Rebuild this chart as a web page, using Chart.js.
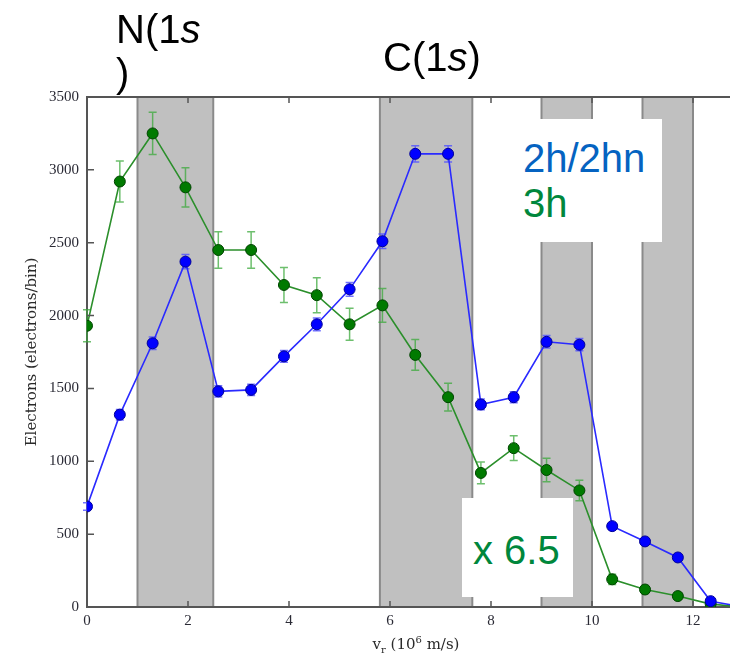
<!DOCTYPE html>
<html>
<head>
<meta charset="utf-8">
<script src="https://cdn.jsdelivr.net/npm/chart.js@4.4.1/dist/chart.umd.min.js"></script>
<style>
  html, body { margin: 0; padding: 0; background: #fff; }
  #wrap { position: relative; width: 730px; height: 656px; overflow: hidden; }
  #plot { position: absolute; left: 0; top: 0; }
  .note { position: absolute; font-family: "Liberation Sans", Arial, sans-serif; font-size: 40px; line-height: 44px; white-space: nowrap; }
  .box { position: absolute; background: #fff; }
  #xtitle { position: absolute; left: 0; width: 832px; top: 634px; text-align: center;
            font-family: "DejaVu Serif", serif; font-size: 15px; color: #2a2a2a; }
  #xtitle sub, #xtitle sup { font-size: 10px; }
</style>
</head>
<body>
<div id="wrap">
  <canvas id="plot" width="750" height="656"></canvas>
  <div class="box" style="left:490px; top:119px; width:172px; height:123px;"></div>
  <div class="box" style="left:462px; top:498px; width:111px; height:99px;"></div>
  <div class="note" style="left:116px; top:7px; color:#000;">N(1<i>s</i><br>)</div>
  <div class="note" style="left:383px; top:35px; color:#000;">C(1<i>s</i>)</div>
  <div class="note" style="left:523px; top:136px; color:#0563c1;">2h/2hn</div>
  <div class="note" style="left:523px; top:181px; color:#00873c;">3h</div>
  <div class="note" style="left:473px; top:528px; color:#00873c;">x 6.5</div>
  <div id="xtitle">v<sub>r</sub> (10<sup>6</sup> m/s)</div>
</div>
<script>
// velocity bins (10^6 m/s)
const vr = [0, 0.65, 1.3, 1.95, 2.6, 3.25, 3.9, 4.55, 5.2, 5.85, 6.5, 7.15, 7.8, 8.45, 9.1, 9.75, 10.4, 11.05, 11.7, 12.35, 13.0];

// 2h/2hn electrons per bin
const blueVals = [690, 1320, 1810, 2370, 1480, 1490, 1720, 1940, 2180, 2510, 3110, 3110, 1390, 1440, 1820, 1800, 555, 450, 340, 40, 0];
const blueErr  = [26, 36, 43, 49, 38, 39, 41, 44, 47, 50, 56, 56, 37, 38, 43, 42, 24, 21, 18, 6, 0];

// 3h electrons per bin (scaled x 6.5)
const greenVals = [1930, 2920, 3250, 2880, 2450, 2450, 2210, 2140, 1940, 2070, 1730, 1440, 920, 1090, 940, 800, 190, 120, 75, 20, 0];
const greenErr  = [110, 140, 145, 135, 125, 125, 120, 120, 110, 115, 105, 95, 75, 85, 80, 70, 35, 28, 22, 12, 0];

// shaded resonance regions
const bandStart = [1.0, 5.8, 9.0, 11.0];
const bandEnd   = [2.5, 7.63, 10.0, 12.0];

const xTicks = [0, 2, 4, 6, 8, 10, 12];
const yTicks = [0, 500, 1000, 1500, 2000, 2500, 3000, 3500];

const toXY = (vals) => vals.map((v, i) => ({ x: vr[i], y: v }));

const bands = {
  id: 'bands',
  beforeDraw(chart) {
    const { ctx, chartArea: a, scales: { x } } = chart;
    ctx.save();
    bandStart.forEach((s, i) => {
      const x0 = x.getPixelForValue(s), x1 = x.getPixelForValue(bandEnd[i]);
      ctx.fillStyle = '#c0c0c0';
      ctx.fillRect(x0, a.top, x1 - x0, a.bottom - a.top);
      ctx.strokeStyle = '#8a8a8a';
      ctx.lineWidth = 2;
      ctx.beginPath();
      ctx.moveTo(x0, a.top); ctx.lineTo(x0, a.bottom);
      ctx.moveTo(x1, a.top); ctx.lineTo(x1, a.bottom);
      ctx.stroke();
    });
    ctx.restore();
  }
};

const errorBars = {
  id: 'errorBars',
  beforeDatasetsDraw(chart) {
    const { ctx, scales: { y } } = chart;
    const errs = [blueErr, greenErr];
    const cols = ['rgba(80,80,255,0.8)', 'rgba(60,170,60,0.75)'];
    ctx.save();
    chart.data.datasets.forEach((ds, di) => {
      const meta = chart.getDatasetMeta(di);
      ctx.strokeStyle = cols[di];
      ctx.lineWidth = 1.5;
      meta.data.forEach((pt, j) => {
        const e = errs[di][j];
        if (!e) return;
        const v = ds.data[j].y;
        const yt = y.getPixelForValue(v + e), yb = y.getPixelForValue(v - e);
        ctx.beginPath();
        ctx.moveTo(pt.x, yt); ctx.lineTo(pt.x, yb);
        ctx.moveTo(pt.x - 4, yt); ctx.lineTo(pt.x + 4, yt);
        ctx.moveTo(pt.x - 4, yb); ctx.lineTo(pt.x + 4, yb);
        ctx.stroke();
      });
    });
    ctx.restore();
  }
};

const frame = {
  id: 'frame',
  afterDraw(chart) {
    const { ctx, chartArea: a, scales: { x, y } } = chart;
    ctx.save();
    ctx.strokeStyle = '#555';
    ctx.lineWidth = 2;
    ctx.beginPath();
    ctx.moveTo(a.left, a.top); ctx.lineTo(a.right, a.top);
    ctx.stroke();
    ctx.lineWidth = 1.5;
    ctx.beginPath();
    xTicks.forEach(t => {
      const px = x.getPixelForValue(t);
      ctx.moveTo(px, a.bottom); ctx.lineTo(px, a.bottom - 6);
      ctx.moveTo(px, a.top); ctx.lineTo(px, a.top + 6);
    });
    yTicks.forEach(t => {
      const py = y.getPixelForValue(t);
      ctx.moveTo(a.left, py); ctx.lineTo(a.left + 7, py);
    });
    ctx.stroke();
    ctx.restore();
  }
};

new Chart(document.getElementById('plot'), {
  type: 'line',
  data: {
    datasets: [
      {
        label: '2h/2hn',
        data: toXY(blueVals),
        borderColor: '#2a2aff',
        borderWidth: 1.6,
        backgroundColor: '#0000ff',
        pointBackgroundColor: '#0000ff',
        pointBorderColor: '#00009a',
        pointBorderWidth: 1,
        pointRadius: 5.5,
        tension: 0
      },
      {
        label: '3h',
        data: toXY(greenVals),
        borderColor: '#2b8f2b',
        borderWidth: 1.6,
        backgroundColor: '#007a00',
        pointBackgroundColor: '#007a00',
        pointBorderColor: '#004400',
        pointBorderWidth: 1,
        pointRadius: 5.5,
        tension: 0
      }
    ]
  },
  options: {
    responsive: false,
    animation: false,
    layout: { padding: { left: 0, top: 97, right: 4, bottom: 0 } },
    plugins: { legend: { display: false }, tooltip: { enabled: false } },
    scales: {
      x: {
        type: 'linear',
        min: 0,
        max: 13,
        afterFit(scale) { scale.height = 49; },
        afterBuildTicks(scale) { scale.ticks = xTicks.map(v => ({ value: v })); },
        grid: { display: false, drawTicks: false },
        border: { display: true, color: '#555', width: 2 },
        ticks: {
          padding: 5,
          color: '#2a2a35',
          font: { family: '"Liberation Serif", serif', size: 15 },
          callback: (v) => String(v)
        }
      },
      y: {
        min: 0,
        max: 3500,
        afterFit(scale) { scale.width = 87; },
        afterBuildTicks(scale) { scale.ticks = yTicks.map(v => ({ value: v })); },
        grid: { display: false, drawTicks: false },
        border: { display: true, color: '#555', width: 2 },
        title: {
          display: true,
          text: 'Electrons (electrons/bin)',
          color: '#2a2a2a',
          padding: { top: 23, bottom: 0 },
          font: { family: '"DejaVu Serif", serif', size: 15 }
        },
        ticks: {
          padding: 8,
          color: '#2a2a35',
          font: { family: '"Liberation Serif", serif', size: 15 },
          callback: (v) => String(v)
        }
      }
    }
  },
  plugins: [bands, errorBars, frame]
});
</script>
</body>
</html>
